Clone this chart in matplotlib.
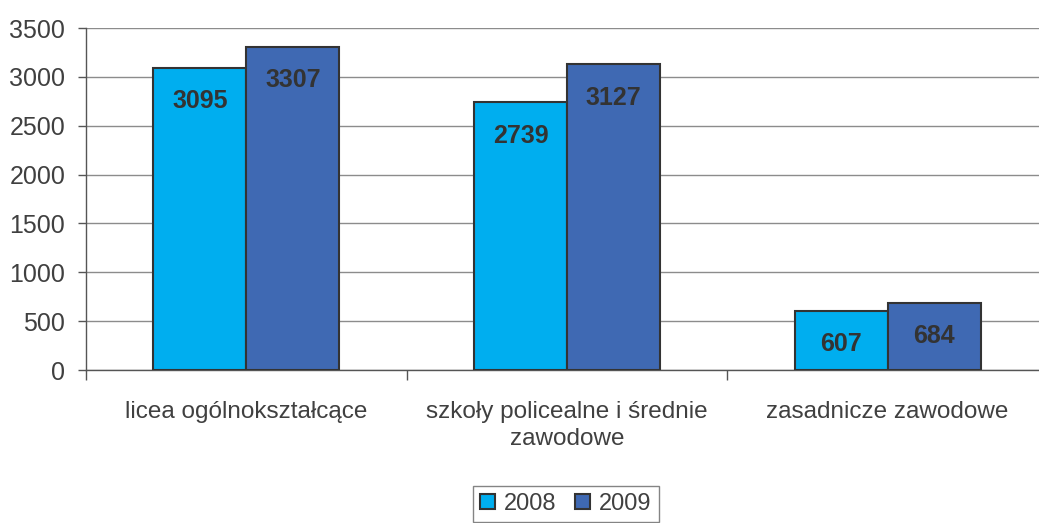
import numpy as np
import matplotlib.pyplot as plt

plt.rcParams['font.family'] = ['Liberation Sans', 'DejaVu Sans']

categories = ['licea ogólnokształcące', 'szkoły policealne i średnie\nzawodowe',
              'zasadnicze zawodowe']
years = ['2008', '2009']
v2008 = [3095, 2739, 607]
v2009 = [3307, 3127, 684]

c2008 = '#00AEEF'
c2009 = '#3F69B3'
edge = '#333333'
txt = '#404040'

fig = plt.figure(figsize=(10.39, 5.23), dpi=100)
ax = fig.add_axes([86/1039, 1-370/523, 962/1039, 342/523])

x = np.arange(len(categories))
w = 0.29
b1 = ax.bar(x - w/2, v2008, w, color=c2008, edgecolor=edge, lw=1.5, label=years[0], zorder=3)
b2 = ax.bar(x + w/2, v2009, w, color=c2009, edgecolor=edge, lw=1.5, label=years[1], zorder=3)

for bars in (b1, b2):
    for r in bars:
        ax.annotate(f'{int(r.get_height())}', (r.get_x() + r.get_width()/2, r.get_height()),
                    xytext=(0, -24), textcoords='offset points', ha='center', va='center',
                    fontsize=18, fontweight='bold', color='#333333', zorder=4)

ax.set_xlim(-0.5, 2.5)
ax.set_ylim(0, 3500)
ax.set_yticks(np.arange(0, 3501, 500))
ax.yaxis.grid(True, color='#8c8c8c', lw=1, zorder=0)
ax.tick_params(axis='y', labelsize=18, labelcolor=txt, color='#555555', length=6, width=1, pad=9)

ax.set_xticks(x)
ax.set_xticklabels(categories, linespacing=1.3)
ax.set_xticks([-0.5, 0.5, 1.5], minor=True)
ax.tick_params(axis='x', which='major', length=0, pad=22, labelsize=17.5, labelcolor=txt)
ax.tick_params(axis='x', which='minor', length=7, width=1, color='#555555')

for s in ['top', 'right']:
    ax.spines[s].set_visible(False)
for s in ['left', 'bottom']:
    ax.spines[s].set_color('#555555')
    ax.spines[s].set_linewidth(1)

leg = fig.legend(handles=[b1, b2], loc='center', bbox_to_anchor=(566/1039, 1-504/523),
                 ncol=2, fontsize=17, frameon=True, fancybox=False, edgecolor='#666666',
                 handlelength=0.6, handleheight=0.6, handletextpad=0.4, columnspacing=0.8,
                 borderpad=0.3)
leg.get_frame().set_linewidth(1)
for t in leg.get_texts():
    t.set_color(txt)

fig.savefig('out.png', dpi=100)
